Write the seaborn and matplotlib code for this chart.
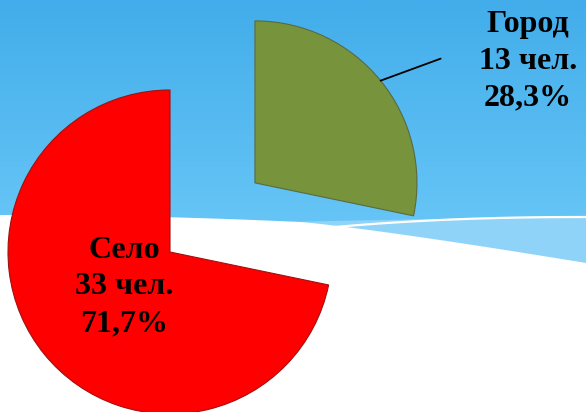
import numpy as np
import matplotlib
matplotlib.use("Agg")
import matplotlib.pyplot as plt
import seaborn as sns

# ---- data ----
categories = ["Город", "Село"]
counts = [13, 33]
percents = ["28,3%", "71,7%"]
colors = ["#77933c", "#ff0000"]

sns.set_theme(style="white")
plt.rcParams['font.family'] = ['Liberation Serif', 'DejaVu Serif']

W, H = 586, 412
fig = plt.figure(figsize=(W / 100, H / 100), dpi=100)

# ---- background ----
bg = fig.add_axes([0, 0, 1, 1])
bg.set_xlim(0, W)
bg.set_ylim(H, 0)
bg.axis("off")
top = np.array([0x42, 0xad, 0xea]) / 255
bot = np.array([0x6c, 0xc9, 0xf8]) / 255
t = np.linspace(0, 1, 256)[:, None]
grad = (top[None, :] * (1 - t) + bot[None, :] * t)[:, None, :]
bg.imshow(grad, extent=[0, W, 260, 0], aspect="auto", zorder=0)
xs = np.linspace(0, W, 400)
white_top = 215 + 7 * (xs / 300) ** 2
white_top = np.where(xs > 300, 222 + 41 * ((xs - 300) / 286) ** 1.15, white_top)
band_top = 221.5 - 6 * (xs - 280) / (W - 280)
bg.fill_between(xs, band_top, white_top, where=(xs > 270) & (band_top < white_top),
                color="#8fd3f8", zorder=1, lw=0)
xl = np.linspace(335, W, 100)
line_y = 217 + 10 * ((W - xl) / (W - 335)) ** 2.2
bg.plot(xl, line_y, color="white", lw=1.6, zorder=2)
bg.fill_between(xs, white_top, H, color="white", zorder=3, lw=0)

# ---- pie ----
ax = fig.add_axes([0, 0, 1, 1])
ax.patch.set_alpha(0)
R = 162
cx, cy = 170, H - 252
wedges, _ = ax.pie(counts, colors=colors, startangle=90, counterclock=False,
                   explode=[0.676 * R, 0], radius=R, center=(cx, cy),
                   wedgeprops=dict(linewidth=0.8, edgecolor="#5a6a40"))
wedges[1].set_edgecolor("#a01010")
ax.set_xlim(0, W)
ax.set_ylim(0, H)
ax.set_aspect("equal")
ax.axis("off")

# label for Город with leader line
wg = wedges[0]
mid = np.deg2rad((wg.theta1 + wg.theta2) / 2)
sx = wg.center[0] + wg.r * np.cos(mid)
sy = wg.center[1] + wg.r * np.sin(mid)
ax.plot([sx, sx + 60], [sy, sy + 22], color="black", lw=1.3)
ax.text(528, H - 61, f"{categories[0]}\n{counts[0]} чел.\n{percents[0]}",
        ha="center", va="center", fontsize=23, fontweight="bold",
        linespacing=1.36, color="black")
ax.text(124, H - 287, f"{categories[1]}\n{counts[1]} чел.\n{percents[1]}",
        ha="center", va="center", fontsize=23, fontweight="bold",
        linespacing=1.36, color="black")

fig.savefig("out.png", dpi=100)
